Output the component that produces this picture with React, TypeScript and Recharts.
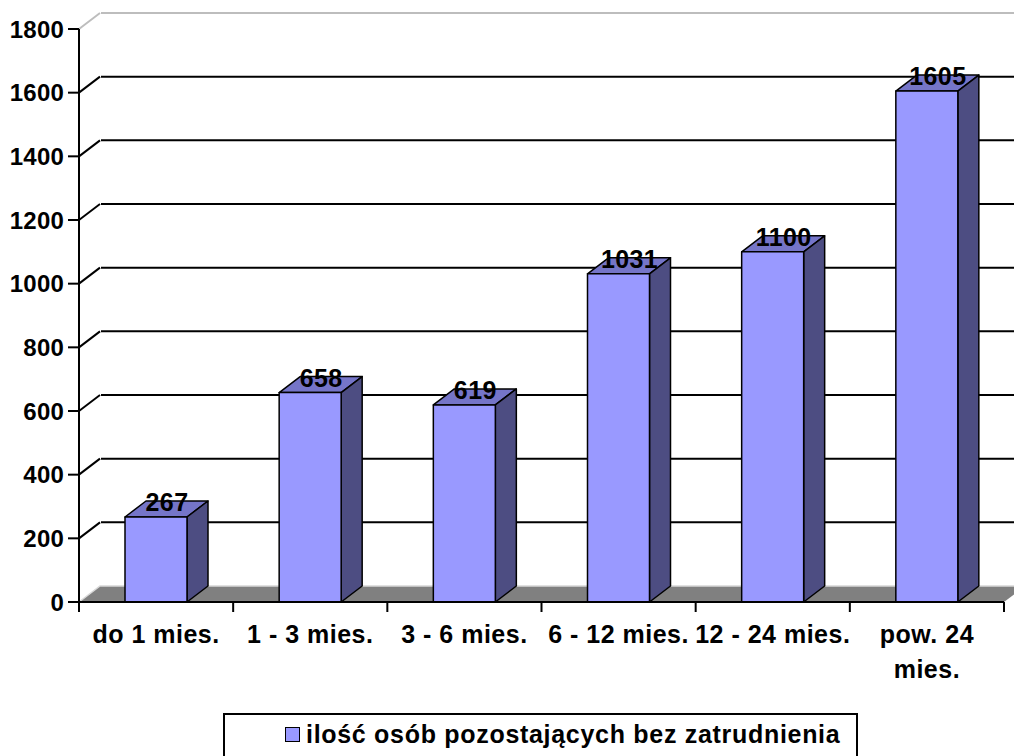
import { BarChart, Bar, XAxis, YAxis, CartesianGrid, LabelList } from 'recharts';

const categories = ['do 1 mies.', '1 - 3 mies.', '3 - 6 mies.', '6 - 12 mies.', '12 - 24 mies.', 'pow. 24\nmies.'];
const values = [267, 658, 619, 1031, 1100, 1605];
const yTicks = [0, 200, 400, 600, 800, 1000, 1200, 1400, 1600, 1800];
const seriesName = 'ilość osób pozostających bez zatrudnienia';

const data = categories.map((c, i) => ({ name: c, value: values[i] }));

// 3D depth offset
const DX = 21;
const DY = -16;
const FONT = '"Liberation Sans", Arial, sans-serif';

const Bar3D = (props: any) => {
  const { x, y, width, height } = props;
  if (width == null || height == null) return null;
  const w = width;
  const h = height;
  return (
    <g stroke="#000" strokeWidth={1.5} strokeLinejoin="round">
      <polygon
        points={`${x},${y} ${x + DX},${y + DY} ${x + w + DX},${y + DY} ${x + w},${y}`}
        fill="#7575C8"
      />
      <polygon
        points={`${x + w},${y} ${x + w + DX},${y + DY} ${x + w + DX},${y + h + DY} ${x + w},${y + h}`}
        fill="#4D4D82"
      />
      <rect x={x} y={y} width={w} height={h} fill="#9999FF" />
    </g>
  );
};

const gridLine = (props: any) => {
  const { x1, y1, x2, index } = props;
  const last = yTicks.length - 1;
  if (index === 0) {
    // floor
    return (
      <g key={`g-${index}`}>
        <polygon
          points={`${x1},${y1} ${x2},${y1} ${x2 + DX},${y1 + DY} ${x1 + DX},${y1 + DY}`}
          fill="#808080"
        />
        <polyline
          points={`${x1},${y1} ${x1 + DX},${y1 + DY} ${x2 + DX},${y1 + DY}`}
          fill="none"
          stroke="#D8D8D8"
          strokeWidth={1.5}
        />
      </g>
    );
  }
  const color = index === last ? '#BDBDBD' : '#000';
  return (
    <g key={`g-${index}`} stroke={color} strokeWidth={2} fill="none">
      <line x1={x1} y1={y1} x2={x1 + DX} y2={y1 + DY} />
      <line x1={x1 + DX + 1} y1={y1 + DY} x2={x2 + DX + 20} y2={y1 + DY} />
    </g>
  );
};

const XTick = (props: any) => {
  const { x, y, payload, index } = props;
  const half = payload && payload.offset ? payload.offset : 77;
  const lines = String(payload.value).split('\n');
  return (
    <g>
      <line x1={x - half} y1={y} x2={x - half} y2={y + 10} stroke="#000" strokeWidth={2} />
      {index === categories.length - 1 && (
        <line x1={x + half} y1={y} x2={x + half} y2={y + 10} stroke="#000" strokeWidth={2} />
      )}
      {lines.map((l, i) => (
        <text
          key={i}
          x={x}
          y={y + 41 + i * 35}
          textAnchor="middle"
          fontFamily={FONT}
          fontWeight="bold"
          fontSize={25}
          letterSpacing={0.5}
          fill="#000"
        >
          {l}
        </text>
      ))}
    </g>
  );
};

const YTick = (props: any) => {
  const { x, y, payload } = props;
  return (
    <text x={x} y={y} dy="0.36em" textAnchor="end" fontFamily={FONT} fontWeight="bold" fontSize={24} letterSpacing={0.2} fill="#000">
      {payload.value}
    </text>
  );
};

const ValueLabel = (props: any) => {
  const { x, y, width, value } = props;
  return (
    <text
      x={x + width / 2 + 11}
      y={y - 6}
      textAnchor="middle"
      fontFamily={FONT}
      fontWeight="bold"
      fontSize={25}
      letterSpacing={0.4}
      fill="#000"
    >
      {value}
    </text>
  );
};

export default function App() {
  return (
    <div style={{ position: 'absolute', left: 0, top: 0, width: 1014, height: 756, overflow: 'hidden', background: '#fff' }}>
      <BarChart width={1014} height={756} data={data} margin={{ top: 29, right: 10, left: 0, bottom: 64 }}>
        <CartesianGrid vertical={false} horizontal={gridLine} />
        <XAxis
          dataKey="name"
          interval={0}
          height={90}
          tickSize={0}
          tickMargin={0}
          tickLine={false}
          axisLine={{ stroke: '#000', strokeWidth: 2 }}
          tick={<XTick />}
        />
        <YAxis
          width={79}
          domain={[0, 1800]}
          ticks={yTicks}
          interval={0}
          tickSize={11}
          tickMargin={4}
          axisLine={{ stroke: '#000', strokeWidth: 2 }}
          tickLine={{ stroke: '#000', strokeWidth: 2 }}
          tick={<YTick />}
        />
        <Bar dataKey="value" name={seriesName} barSize={62} shape={<Bar3D />} isAnimationActive={false}>
          <LabelList dataKey="value" content={<ValueLabel />} />
        </Bar>
      </BarChart>
      <div
        style={{
          position: 'absolute',
          left: 223,
          top: 713,
          width: 635,
          height: 60,
          border: '2px solid #000',
          boxSizing: 'border-box',
          fontFamily: FONT,
          fontWeight: 'bold',
          fontSize: 25,
          letterSpacing: 0.7,
          color: '#000',
        }}
      >
        <span
          style={{
            position: 'absolute',
            left: 60,
            top: 12,
            width: 15,
            height: 15,
            background: '#9999FF',
            border: '1.5px solid #000',
            boxSizing: 'border-box',
          }}
        />
        <span style={{ position: 'absolute', left: 81, top: 5, whiteSpace: 'nowrap', lineHeight: '28px' }}>{seriesName}</span>
      </div>
    </div>
  );
}
